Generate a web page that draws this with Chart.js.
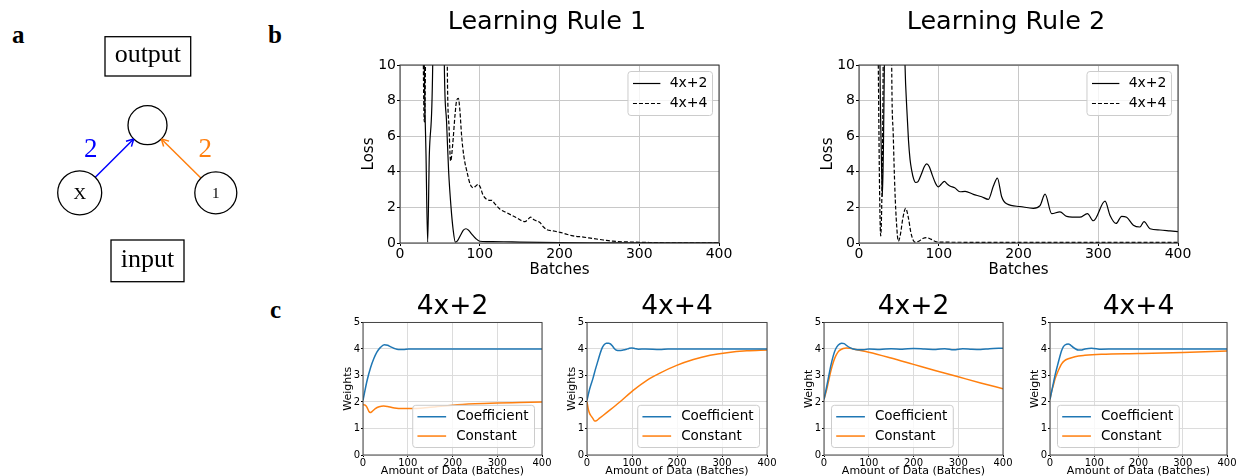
<!DOCTYPE html>
<html>
<head>
<meta charset="utf-8">
<script src="https://cdn.jsdelivr.net/npm/chart.js@4.4.0/dist/chart.umd.min.js"></script>
<style>
  html, body { margin: 0; padding: 0; background: #fff; overflow: hidden; }
  body { width: 1238px; height: 476px; position: relative; }
  canvas { position: absolute; }
  .tag { position: absolute; font: bold 25px 'Liberation Serif', serif; line-height: 25px; color: #000; }
</style>
</head>
<body>
<div class="tag" style="left:12px;top:22px">a</div>
<div class="tag" style="left:268px;top:22px">b</div>
<div class="tag" style="left:270px;top:297px">c</div>
<script>
// ---------- data ----------
const lossTicks = [0, 2, 4, 6, 8, 10]
const batchTicks = [0, 100, 200, 300, 400]
const weightTicks = [0, 1, 2, 3, 4, 5]
const seriesNames = ['4x+2', '4x+4']
const weightNames = ['Coefficient', 'Constant']

// learning rule 1, loss
const r1x42 = [20, 29, 30.5, 32.6, 34.7, 36.8, 41, 44, 52, 55.6, 58.4, 61, 64, 66.5, 69.4, 72, 76, 79.5, 82.7, 86, 90, 95, 100, 110, 130, 150, 200, 250, 300, 400]
const r1y42 = [40, 20, 10, 5, 0.05, 5, 10, 30, 30, 10, 6.8, 4, 2, 0.8, 0.05, 0.12, 0.45, 0.72, 0.8, 0.72, 0.5, 0.25, 0.1, 0.08, 0.07, 0.05, 0.02, 0.01, 0.005, 0.003]
const r1x44 = [22, 27, 29.3, 30.6, 31.9, 34, 57, 59.3, 61.5, 63.5, 66, 69, 71, 73.2, 75, 77.3, 80, 84.5, 88, 92, 95, 98, 101, 104, 108.7, 112, 115, 119, 125.4, 133.8, 145, 156.7, 160, 163.8, 168, 175.5, 180, 184, 192, 200.6, 210, 217, 230, 242, 255, 267, 285, 301, 343, 400]
const r1y44 = [40, 30, 10, 6.8, 10, 30, 30, 10, 6.5, 4.6, 5.5, 7.2, 8, 8.13, 7.5, 6, 4.9, 3.9, 3.3, 3.1, 3.2, 3.3, 3.1, 2.7, 2.45, 2.4, 2.4, 2.2, 1.9, 1.7, 1.45, 1.2, 1.3, 1.45, 1.3, 1.15, 0.9, 0.75, 0.68, 0.6, 0.48, 0.4, 0.33, 0.25, 0.17, 0.1, 0.06, 0.04, 0.01, 0.005]

// learning rule 2, loss
const r2x42 = [18, 25, 26.3, 28, 29.3, 30.5, 31.8, 33, 50, 57.7, 60, 62, 64, 66, 68.5, 71, 74, 78, 82, 84.8, 88, 92, 96, 99.5, 103, 107, 111, 114, 120, 126.6, 133, 143.4, 153.8, 162.2, 168.5, 173.5, 178.9, 185.2, 201.9, 218.6, 227, 233.3, 241.6, 252, 260.4, 277, 286.4, 293.9, 308.5, 314.8, 322.3, 329.4, 335.6, 344, 352.3, 357.4, 364.9, 377.4, 390, 400]
const r2y42 = [40, 20, 10, 5, 2.6, 5, 10, 20, 30, 10, 7.5, 5.8, 4.7, 4.1, 3.6, 3.4, 3.45, 3.85, 4.3, 4.45, 4.3, 3.8, 3.35, 3.15, 3.3, 3.46, 3.3, 3.2, 3.1, 2.88, 2.9, 2.73, 2.6, 2.45, 3.2, 3.65, 2.6, 2.2, 2.05, 1.95, 2.1, 2.75, 1.65, 1.75, 1.5, 1.45, 1.65, 1.25, 2.35, 1.55, 1.1, 1.5, 1.45, 1.0, 0.9, 1.2, 0.8, 0.73, 0.68, 0.64]
const r2x44 = [18, 22, 24.2, 25.8, 27.2, 28.8, 30.3, 32, 39, 41, 43, 45, 47.2, 49.3, 52, 55, 58.5, 62, 65, 68, 70, 75, 80, 84.8, 90, 95, 101.6, 150, 200, 300, 400]
const r2y44 = [40, 20, 10, 3, 0.4, 3, 10, 30, 30, 10, 6, 3, 1, 0.1, 0.5, 1.4, 1.95, 1.4, 0.6, 0.15, 0.05, 0.1, 0.25, 0.3, 0.22, 0.1, 0.05, 0.04, 0.04, 0.03, 0.03]

// weights, rule 1 / 4x+2
const w1xCoef = [0, 9, 17, 24, 31, 39, 47.5, 55, 61, 70, 79, 90, 102, 150, 200, 300, 400]
const w1yCoef = [2.06, 2.8, 3.3, 3.63, 3.88, 4.06, 4.16, 4.14, 4.09, 4.02, 3.98, 3.98, 4.0, 4.0, 4.0, 4.0, 4.0]
const w1xConst = [0, 5, 9, 13, 16.3, 20, 27.5, 36, 46, 55, 64.6, 75, 83, 105, 150, 200, 250, 300, 350, 400]
const w1yConst = [1.9, 1.88, 1.8, 1.65, 1.6, 1.64, 1.75, 1.82, 1.85, 1.83, 1.79, 1.76, 1.75, 1.75, 1.8, 1.88, 1.93, 1.96, 1.98, 2.0]

// weights, rule 1 / 4x+4
const w2xCoef = [0, 6, 13.4, 19, 24.5, 29, 34.2, 38.5, 43.1, 48, 52, 57, 61.7, 66, 71.4, 80, 87.7, 93, 98.9, 106, 113.8, 130, 162, 180, 220, 300, 400]
const w2yCoef = [2.06, 2.5, 2.9, 3.25, 3.56, 3.82, 4.06, 4.17, 4.22, 4.22, 4.19, 4.1, 4.0, 3.95, 3.94, 3.96, 3.99, 4.02, 4.04, 4.02, 3.99, 4.0, 3.98, 4.0, 4.0, 4.0, 4.0]
const w2xConst = [0, 3, 5.9, 9.7, 13, 17.1, 22.3, 28, 35.7, 50.6, 72.9, 102.6, 132.3, 162, 199.3, 236.4, 273.6, 310.8, 355.4, 400]
const w2yConst = [2.0, 1.72, 1.56, 1.46, 1.38, 1.28, 1.31, 1.39, 1.49, 1.69, 2.0, 2.44, 2.81, 3.09, 3.38, 3.6, 3.76, 3.86, 3.93, 3.96]

// weights, rule 2 / 4x+2
const w3xCoef = [0, 5, 9.7, 15, 20.8, 26, 32, 39.4, 45, 50.6, 58, 65.4, 75, 87.7, 100, 125, 150, 175, 200, 225, 250, 270, 290, 310, 330, 350, 370, 400]
const w3yCoef = [2.1, 2.5, 2.9, 3.35, 3.75, 4.0, 4.15, 4.22, 4.2, 4.13, 4.05, 4.0, 3.97, 3.97, 4.0, 3.98, 4.01, 3.99, 4.02, 4.0, 3.98, 4.01, 3.97, 4.01, 3.99, 3.98, 4.01, 4.03]
const w3xConst = [0, 5, 9.7, 15, 20.8, 26, 32, 38, 43, 50, 58, 70, 100, 150, 200, 250, 300, 350, 400]
const w3yConst = [2.1, 2.4, 2.75, 3.15, 3.5, 3.73, 3.9, 3.98, 4.02, 4.04, 4.03, 3.98, 3.88, 3.66, 3.42, 3.18, 2.95, 2.72, 2.5]

// weights, rule 2 / 4x+4
const w4xCoef = [0, 7.5, 12, 17.3, 22, 26.3, 30, 33.8, 41.3, 47, 52.5, 58, 63.8, 70, 78.8, 93.8, 116, 150, 200, 300, 400]
const w4yCoef = [2.1, 2.7, 3.05, 3.4, 3.7, 3.94, 4.08, 4.15, 4.19, 4.14, 4.06, 4.0, 3.96, 3.96, 4.0, 4.03, 3.99, 4.0, 4.0, 4.0, 4.0]
const w4xConst = [0, 3, 7.5, 12, 17.3, 22, 26.3, 33, 41.3, 56.3, 78.8, 116, 200, 300, 400]
const w4yConst = [2.1, 2.35, 2.63, 2.9, 3.13, 3.3, 3.44, 3.56, 3.63, 3.71, 3.76, 3.8, 3.83, 3.87, 3.92]

// panel a: the little network
const nodeLabels = ['', 'X', '1']
const edgeFrom = [1, 2]
const edgeTo = [0, 0]
const edgeWeights = ['2', '2']
const boxLabels = ['output', 'input']

// ---------- layout of panel a (pixels of the panel) ----------
const nodeX = [147.5, 79.7, 215.8]
const nodeY = [125.2, 192.8, 192.8]
const nodeR = [19.5, 22, 21]
const nodeFont = [0, 17.5, 15]
const edgeColors = ['#0000ff', '#ff7f0e']
const weightX = [90.8, 205.2]
const weightBase = [156.7, 156.7]
const boxRect = [[105, 36.7, 190.7, 76], [111, 240, 184, 281.7]]
const boxBase = [62.3, 266.7]

// ---------- setup ----------
Chart.defaults.font.family = '"DejaVu Sans", sans-serif'
Chart.defaults.color = '#000'
Chart.defaults.animation = false
Chart.defaults.events = []
Chart.defaults.plugins.legend.display = false
Chart.defaults.plugins.tooltip.enabled = false

const blue = '#1f77b4'
const orange = '#ff7f0e'

function addCanvas(left, top, w, h) {
  const c = document.createElement('canvas')
  c.width = w
  c.height = h
  c.style.left = left + 'px'
  c.style.top = top + 'px'
  document.body.appendChild(c)
  return c
}

const pts = (xs, ys) => xs.map((x, i) => ({x, y: ys[i]}))

// spines round the plot area
const frame = {
  id: 'frame',
  afterDatasetsDraw(chart, args, opts) {
    if (!opts.color) return
    const {ctx, chartArea: a} = chart
    ctx.save()
    ctx.strokeStyle = opts.color
    ctx.lineWidth = 1
    ctx.strokeRect(a.left, a.top, a.right - a.left, a.bottom - a.top)
    ctx.restore()
  }
}

// matplotlib style legend box inside the axes
const boxLegend = {
  id: 'boxLegend',
  afterDatasetsDraw(chart, args, o) {
    if (!o.corner) return
    const {ctx, chartArea: a} = chart
    const sets = chart.data.datasets
    ctx.save()
    ctx.font = o.size + 'px "DejaVu Sans"'
    const tw = Math.max(...sets.map(d => ctx.measureText(d.label).width))
    const w = o.padX + o.line + o.gap + tw + o.padR
    const h = sets.length * o.row + o.padY * 2
    const x = o.corner.includes('left') ? a.left + o.margin : a.right - o.margin - w
    const y = o.corner.includes('upper') ? a.top + o.margin : a.bottom - o.margin - h
    ctx.beginPath()
    ctx.roundRect(x, y, w, h, 3)
    ctx.fillStyle = 'rgba(255,255,255,0.8)'
    ctx.fill()
    ctx.strokeStyle = '#cccccc'
    ctx.lineWidth = 1
    ctx.stroke()
    sets.forEach((d, i) => {
      const cy = y + o.padY + o.row * (i + 0.5)
      ctx.beginPath()
      ctx.setLineDash(d.borderDash || [])
      ctx.strokeStyle = d.borderColor
      ctx.lineWidth = d.borderWidth
      ctx.moveTo(x + o.padX, cy)
      ctx.lineTo(x + o.padX + o.line, cy)
      ctx.stroke()
      ctx.setLineDash([])
      ctx.fillStyle = '#000'
      ctx.textBaseline = 'middle'
      ctx.textAlign = 'left'
      ctx.fillText(d.label, x + o.padX + o.line + o.gap, cy)
    })
    ctx.restore()
  }
}

// ---------- panel b ----------
function lossChart(left, title, xs42, ys42, xs44, ys44) {
  const cv = addCanvas(left, 0, 414, 285)
  return new Chart(cv, {
    type: 'line',
    data: {
      datasets: [
        {label: seriesNames[0], data: pts(xs42, ys42), borderColor: '#000', borderWidth: 1.2, pointRadius: 0, cubicInterpolationMode: 'monotone'},
        {label: seriesNames[1], data: pts(xs44, ys44), borderColor: '#000', borderWidth: 1.2, borderDash: [4, 2], pointRadius: 0, cubicInterpolationMode: 'monotone'}
      ]
    },
    options: {
      responsive: false,
      devicePixelRatio: 1,
      layout: {padding: 0, autoPadding: false},
      scales: {
        x: {
          type: 'linear', min: 0, max: 400,
          afterFit: s => { s.height = 42 },
          afterBuildTicks: s => { s.ticks = batchTicks.map(v => ({value: v})) },
          ticks: {font: {size: 14}, padding: 0, color: '#000'},
          grid: {color: '#c8c8c8', tickColor: '#000', tickLength: 3},
          border: {display: false},
          title: {display: true, text: 'Batches', font: {size: 15}, padding: {top: 0, bottom: 6}}
        },
        y: {
          min: 0, max: 10,
          afterFit: s => { s.width = 60 },
          afterBuildTicks: s => { s.ticks = lossTicks.map(v => ({value: v})) },
          ticks: {font: {size: 14}, padding: 1, color: '#000'},
          grid: {color: '#c8c8c8', tickColor: '#000', tickLength: 3},
          border: {display: false},
          title: {display: true, text: 'Loss', font: {size: 15}, padding: {top: 20, bottom: 0}}
        },
        pad: {
          position: 'right', display: true,
          afterFit: s => { s.width = 35 },
          grid: {display: false}, ticks: {display: false}, border: {display: false}
        }
      },
      plugins: {
        title: {display: true, text: title, color: '#000', font: {size: 25.5, weight: 'normal', lineHeight: 1.2}, padding: {top: 7.5, bottom: 26.9}},
        frame: {color: '#333'},
        boxLegend: {corner: 'upper right', size: 14, margin: 6.5, padX: 5, line: 27.4, gap: 9.3, row: 20, padY: 2, padR: 5}
      }
    },
    plugins: [frame, boxLegend]
  })
}

lossChart(340, 'Learning Rule 1', r1x42, r1y42, r1x44, r1y44)
lossChart(799, 'Learning Rule 2', r2x42, r2y42, r2x44, r2y44)

// ---------- panel c ----------
function weightChart(left, width, title, yTitle, corner, xc, yc, xk, yk) {
  const cv = addCanvas(left, 290, width, 186)
  return new Chart(cv, {
    type: 'line',
    data: {
      datasets: [
        {label: weightNames[0], data: pts(xc, yc), borderColor: blue, borderWidth: 1.5, pointRadius: 0, cubicInterpolationMode: 'monotone'},
        {label: weightNames[1], data: pts(xk, yk), borderColor: orange, borderWidth: 1.5, pointRadius: 0, cubicInterpolationMode: 'monotone'}
      ]
    },
    options: {
      responsive: false,
      devicePixelRatio: 1,
      layout: {padding: 0, autoPadding: false},
      scales: {
        x: {
          type: 'linear', min: 0, max: 400,
          afterFit: s => { s.height = 21 },
          afterBuildTicks: s => { s.ticks = batchTicks.map(v => ({value: v})) },
          ticks: {font: {size: 10}, padding: 0, color: '#000'},
          grid: {color: '#dcdcdc', tickColor: '#000', tickLength: 2},
          border: {display: false},
          title: {display: true, text: 'Amount of Data (Batches)', font: {size: 11}, padding: {top: 0, bottom: -1.5}}
        },
        y: {
          min: 0, max: 5,
          afterFit: s => { s.width = 25 },
          afterBuildTicks: s => { s.ticks = weightTicks.map(v => ({value: v})) },
          ticks: {font: {size: 10}, padding: 1, color: '#000'},
          grid: {color: '#dcdcdc', tickColor: '#000', tickLength: 2},
          border: {display: false},
          title: {display: true, text: yTitle, font: {size: 11}, padding: {top: 3.4, bottom: 0}}
        },
        pad: {
          position: 'right', display: true,
          afterFit: s => { s.width = 25 },
          grid: {display: false}, ticks: {display: false}, border: {display: false}
        }
      },
      plugins: {
        title: {display: true, text: title, color: '#000', font: {size: 26.5, weight: 'normal', lineHeight: 1.15}, padding: {top: 2, bottom: 0}},
        frame: {color: '#444'},
        boxLegend: {corner, size: 13.5, margin: 7.5, padX: 4.7, line: 28.7, gap: 10, row: 19.3, padY: 1.8, padR: 6}
      }
    },
    plugins: [frame, boxLegend]
  })
}

weightChart(338, 229, seriesNames[0], 'Weights', 'lower right', w1xCoef, w1yCoef, w1xConst, w1yConst)
weightChart(562, 230, seriesNames[1], 'Weights', 'lower right', w2xCoef, w2yCoef, w2xConst, w2yConst)
weightChart(799, 229, seriesNames[0], 'Weight', 'lower left', w3xCoef, w3yCoef, w3xConst, w3yConst)
weightChart(1025, 227, seriesNames[1], 'Weight', 'lower left', w4xCoef, w4yCoef, w4xConst, w4yConst)

// ---------- panel a ----------
const diagram = {
  id: 'diagram',
  afterDatasetsDraw(chart) {
    const {ctx, scales: {x, y}} = chart
    const px = v => x.getPixelForValue(v)
    const py = v => y.getPixelForValue(v)
    ctx.save()
    // arrow heads
    chart.data.datasets.forEach(ds => {
      if (!ds.arrow) return
      const [p0, p1] = ds.data
      const x0 = px(p0.x), y0 = py(p0.y), x1 = px(p1.x), y1 = py(p1.y)
      const ang = Math.atan2(y1 - y0, x1 - x0)
      ctx.strokeStyle = ds.borderColor
      ctx.lineWidth = ds.borderWidth
      ctx.beginPath()
      for (const s of [-1, 1]) {
        ctx.moveTo(x1, y1)
        ctx.lineTo(x1 - 8 * Math.cos(ang + s * 0.5), y1 - 8 * Math.sin(ang + s * 0.5))
      }
      ctx.stroke()
    })
    ctx.textAlign = 'center'
    ctx.textBaseline = 'alphabetic'
    ctx.fillStyle = '#000'
    // node texts
    nodeLabels.forEach((t, i) => {
      if (!t) return
      ctx.font = nodeFont[i] + 'px "Liberation Serif"'
      ctx.fillText(t, px(nodeX[i]), py(nodeY[i]) + nodeFont[i] * 0.35)
    })
    // weights on the edges
    ctx.font = '27px "Liberation Serif"'
    edgeWeights.forEach((t, i) => {
      ctx.fillStyle = edgeColors[i]
      ctx.fillText(t, px(weightX[i]), py(weightBase[i]))
    })
    // output / input boxes
    ctx.font = '26px "Liberation Serif"'
    ctx.fillStyle = '#000'
    ctx.strokeStyle = '#000'
    ctx.lineWidth = 1.3
    boxLabels.forEach((t, i) => {
      const [l, tp, r, b] = boxRect[i]
      ctx.strokeRect(px(l), py(tp), px(r) - px(l), py(b) - py(tp))
      ctx.fillText(t, (px(l) + px(r)) / 2, py(boxBase[i]))
    })
    ctx.restore()
  }
}

const edgeSets = edgeFrom.map((f, i) => {
  const t = edgeTo[i]
  const dx = nodeX[t] - nodeX[f], dy = nodeY[t] - nodeY[f]
  const len = Math.hypot(dx, dy)
  const ux = dx / len, uy = dy / len
  return {
    data: [
      {x: nodeX[f] + ux * nodeR[f], y: nodeY[f] + uy * nodeR[f]},
      {x: nodeX[t] - ux * nodeR[t], y: nodeY[t] - uy * nodeR[t]}
    ],
    arrow: true, showLine: true, borderColor: edgeColors[i], borderWidth: 1.5, pointRadius: 0
  }
})

new Chart(addCanvas(0, 0, 270, 300), {
  type: 'scatter',
  data: {
    datasets: [
      {data: pts(nodeX, nodeY), pointRadius: nodeR, pointBackgroundColor: '#fff', pointBorderColor: '#000', pointBorderWidth: 1.3},
      ...edgeSets
    ]
  },
  options: {
    responsive: false,
    devicePixelRatio: 1,
    layout: {padding: 0, autoPadding: false},
    scales: {
      x: {type: 'linear', min: 0, max: 270, display: false},
      y: {type: 'linear', min: 0, max: 300, reverse: true, display: false}
    }
  },
  plugins: [diagram]
})
</script>
</body>
</html>
